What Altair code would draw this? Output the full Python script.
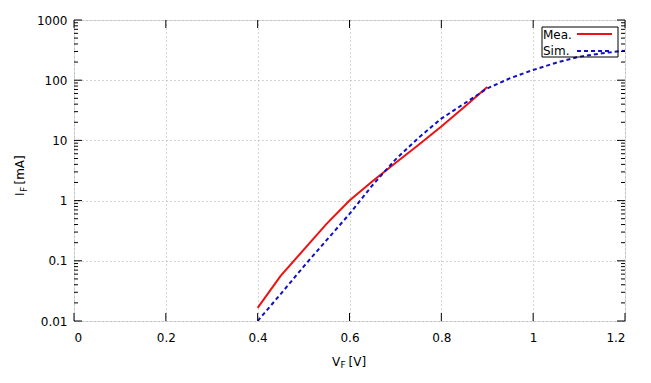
import altair as alt
import pandas as pd

# ---- data ----
v_mea = [0.40, 0.45, 0.50, 0.55, 0.60, 0.65, 0.70, 0.75, 0.80, 0.85, 0.90]
i_mea = [0.0165, 0.056, 0.152, 0.41, 1.0, 2.1, 4.2, 8.4, 17, 36, 77]

v_sim = [0.40, 0.45, 0.50, 0.55, 0.60, 0.65, 0.70, 0.75, 0.80, 0.85, 0.90,
         0.95, 1.00, 1.05, 1.10, 1.15, 1.20]
i_sim = [0.01, 0.028, 0.08, 0.22, 0.6, 1.8, 4.8, 11, 23, 41, 73,
         108, 148, 195, 245, 280, 310]

x_ticks = [0, 0.2, 0.4, 0.6, 0.8, 1.0, 1.2]
y_ticks = [0.01, 0.1, 1, 10, 100, 1000]
y_minor = [d * k for d in [0.01, 0.1, 1, 10, 100] for k in range(2, 10)]

series_names = ["Mea.", "Sim."]
series_colors = ["#ee1111", "#1010c8"]

W, H = 551, 301
FONT = "DejaVu Sans"
FS = 12

xs = alt.Scale(domain=[0, 1.2], nice=False, zero=False)
ys = alt.Scale(type="log", domain=[0.01, 1000], nice=False)

mea = pd.DataFrame({"v": v_mea, "i": i_mea})
sim = pd.DataFrame({"v": v_sim, "i": i_sim})

grid_kw = dict(ticks=False, domain=False, grid=True, gridDash=[1, 3],
               gridColor="#a8a8a8", labelFont=FONT, labelFontSize=FS,
               labelColor="black", format="~g")

base_x = alt.X("v:Q", scale=xs, title=None,
               axis=alt.Axis(values=x_ticks, labelPadding=11, **grid_kw))
base_y = alt.Y("i:Q", scale=ys, title=None,
               axis=alt.Axis(values=y_ticks, labelPadding=7, **grid_kw))

line_mea = alt.Chart(mea).mark_line(color=series_colors[0], strokeWidth=2, clip=True).encode(
    x=base_x, y=base_y)
line_sim = alt.Chart(sim).mark_line(color=series_colors[1], strokeWidth=2,
                                    strokeDash=[4, 3], clip=True).encode(
    x=alt.X("v:Q", scale=xs), y=alt.Y("i:Q", scale=ys))

# ---- inward ticks ----
ymaj = pd.DataFrame({"i": y_ticks})
ymin = pd.DataFrame({"i": y_minor})
xmaj = pd.DataFrame({"v": x_ticks})

def yrule(df, x1, x2):
    return alt.Chart(df).mark_rule(color="black", strokeWidth=1).encode(
        y=alt.Y("i:Q", scale=ys), x=alt.value(x1), x2=alt.value(x2))

def xrule(df, y1, y2):
    return alt.Chart(df).mark_rule(color="black", strokeWidth=1).encode(
        x=alt.X("v:Q", scale=xs), y=alt.value(y1), y2=alt.value(y2))

ticks = [
    yrule(ymaj, 0, 8), yrule(ymaj, W - 8, W),
    yrule(ymin, 0, 4), yrule(ymin, W - 4, W),
    xrule(xmaj, H, H - 8), xrule(xmaj, 0, 8),
]

# ---- legend (drawn manually, gnuplot style) ----
leg = pd.DataFrame({"name": series_names, "row": [0, 1]})
leg_box = alt.Chart(pd.DataFrame({"a": [0]})).mark_rect(
    fill=None, stroke="black", strokeWidth=1, filled=False).encode(
    x=alt.value(468), x2=alt.value(544), y=alt.value(7), y2=alt.value(37))
leg_text1 = alt.Chart(leg.iloc[[0]]).mark_text(
    align="left", baseline="middle", font=FONT, fontSize=FS, color="black").encode(
    text="name:N", x=alt.value(469), y=alt.value(15))
leg_text2 = alt.Chart(leg.iloc[[1]]).mark_text(
    align="left", baseline="middle", font=FONT, fontSize=FS, color="black").encode(
    text="name:N", x=alt.value(469), y=alt.value(31))
leg_l1 = alt.Chart(leg.iloc[[0]]).mark_rule(color=series_colors[0], strokeWidth=2).encode(
    x=alt.value(503), x2=alt.value(538), y=alt.value(14))
leg_l2 = alt.Chart(leg.iloc[[1]]).mark_rule(color=series_colors[1], strokeWidth=2,
                                             strokeDash=[4, 3]).encode(
    x=alt.value(503), x2=alt.value(538), y=alt.value(31))

# ---- axis titles with subscripts ----
def txt(s, x, y, size=FS, angle=0):
    return alt.Chart(pd.DataFrame({"t": [s]})).mark_text(
        align="left", baseline="middle", font=FONT, fontSize=size,
        color="black", angle=angle).encode(text="t:N", x=alt.value(x), y=alt.value(y))

titles = [
    txt("V", 258, 342), txt("F", 266.5, 345, size=9), txt("[V]", 274.5, 342),
    txt("I", -54, 176, angle=270), txt("F", -50.5, 172, size=9, angle=270),
    txt("[mA]", -54, 164.5, angle=270),
]

chart = alt.layer(line_mea, line_sim, *ticks, leg_box, leg_text1, leg_text2,
                  leg_l1, leg_l2, *titles).properties(
    width=W, height=H,
    autosize=alt.AutoSizeParams(type="none"),
    padding={"left": 66, "top": 12, "right": 12, "bottom": 50},
).configure_view(stroke="black", strokeWidth=1).configure(background="white")

chart.save("out.html", embed_options={"renderer": "svg", "actions": False})
